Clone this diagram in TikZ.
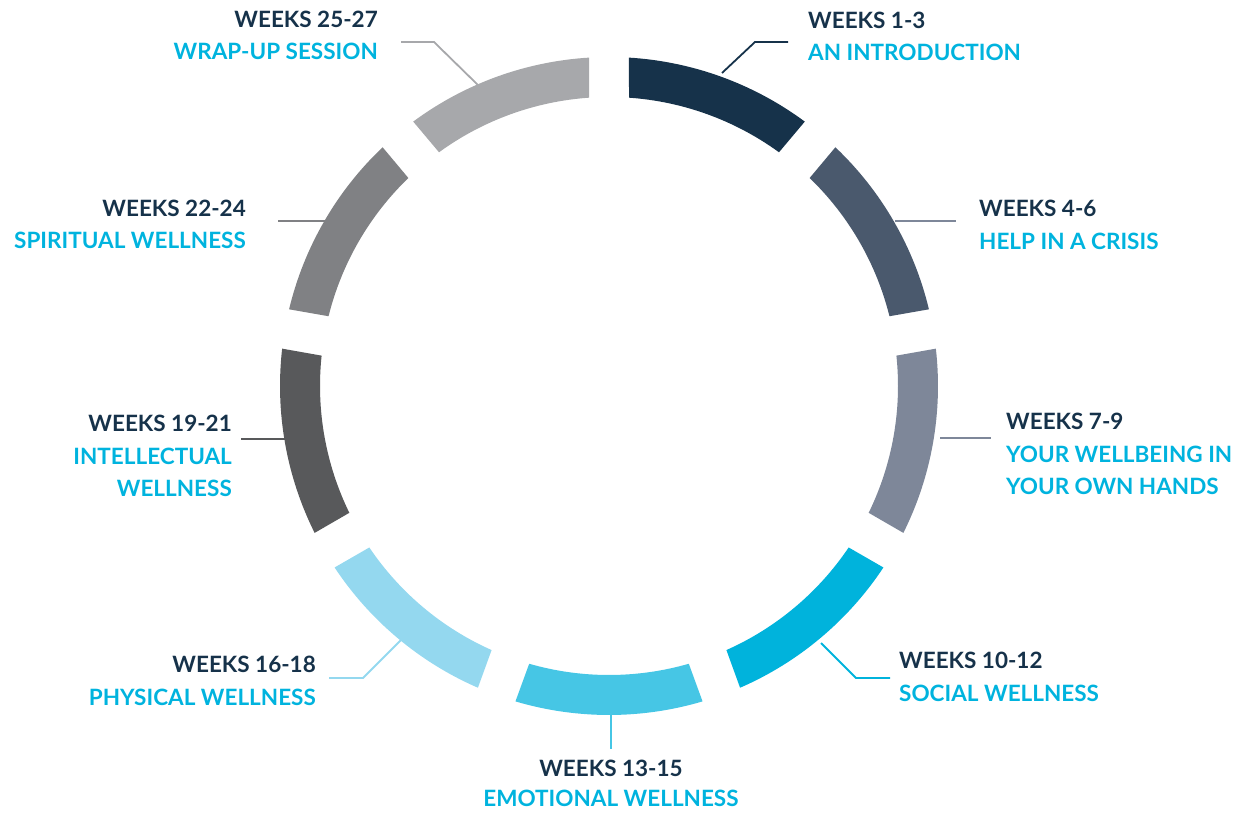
\documentclass[tikz,border=0pt]{standalone}
\usepackage{fontspec}
\setmainfont{Lato}

\definecolor{navy}{HTML}{16324A}
\definecolor{topic}{HTML}{00B3DE}
\definecolor{segA}{HTML}{16324A}
\definecolor{segB}{HTML}{4A596D}
\definecolor{segC}{HTML}{7E8799}
\definecolor{segD}{HTML}{00B3DC}
\definecolor{segE}{HTML}{46C6E5}
\definecolor{segF}{HTML}{94D8EF}
\definecolor{segG}{HTML}{58595B}
\definecolor{segH}{HTML}{808184}
\definecolor{segI}{HTML}{A7A8AB}

\tikzset{
  weeks/.style={font=\bfseries\fontsize{22.5}{22.5}\selectfont, text=navy, inner sep=0pt},
  topicline/.style={font=\bfseries\fontsize{22.5}{22.5}\selectfont, text=topic, inner sep=0pt},
  leader/.style={line width=1.8pt},
}

\begin{document}
\begin{tikzpicture}[x=1pt, y=1pt]
          \useasboundingbox (0,0) rectangle (1237,816);

          % ring
          \begin{scope}[shift={(609,430)}]
          \foreach \col [count=\k from 0] in {segA,segB,segC,segD,segE,segF,segG,segH,segI} {
            \pgfmathsetmacro\ga{90-40*\k}
            \pgfmathsetmacro\gb{50-40*\k}
            \fill[\col] (\ga-3.48:329pt) arc[start angle=\ga-3.48, end angle=\gb+3.48, radius=329pt]
              -- (\gb+3.97:289pt) arc[start angle=\gb+3.97, end angle=\ga-3.97, radius=289pt] -- cycle;
          }
          \end{scope}

          % nodes
          \node[weeks, anchor=base west] at (808,787) (w1) {WEEKS 1-3};
          \node[topicline, anchor=base west] at (808,755) (t1) {AN INTRODUCTION};

          \node[weeks, anchor=base west] at (979,599) (w2) {WEEKS 4-6};
          \node[topicline, anchor=base west] at (979,566) (t2) {HELP IN A CRISIS};

          \node[weeks, anchor=base west] at (1006,386) (w3) {WEEKS 7-9};
          \node[topicline, anchor=base west] at (1006,353) (t3a) {YOUR WELLBEING IN};
          \node[topicline, anchor=base west] at (1006,321) (t3b) {YOUR OWN HANDS};

          \node[weeks, anchor=base west] at (899,147) (w4) {WEEKS 10-12};
          \node[topicline, anchor=base west] at (899,114) (t4) {SOCIAL WELLNESS};

          \node[weeks, anchor=base] at (611,39) (w5) {WEEKS 13-15};
          \node[topicline, anchor=base] at (611,9) (t5) {EMOTIONAL WELLNESS};

          \node[weeks, anchor=base east] at (316,143) (w6) {WEEKS 16-18};
          \node[topicline, anchor=base east] at (316,110) (t6) {PHYSICAL WELLNESS};

          \node[weeks, anchor=base east] at (232,384) (w7) {WEEKS 19-21};
          \node[topicline, anchor=base east] at (232,351) (t7a) {INTELLECTUAL};
          \node[topicline, anchor=base east] at (232,319) (t7b) {WELLNESS};

          \node[weeks, anchor=base east] at (246,599) (w8) {WEEKS 22-24};
          \node[topicline, anchor=base east] at (246,567) (t8) {SPIRITUAL WELLNESS};

          \node[weeks, anchor=base east] at (378,788) (w9) {WEEKS 25-27};
          \node[topicline, anchor=base east] at (378,756) (t9) {WRAP-UP SESSION};

          % leader points
          \coordinate (s1) at (722,743); \coordinate (k1) at (755,774); \coordinate (e1) at (788,774);
          \coordinate (s2) at (895,595); \coordinate (e2) at (956,595);
          \coordinate (s3) at (940,378); \coordinate (e3) at (991,378);
          \coordinate (s4) at (821,173); \coordinate (k4) at (856,138); \coordinate (e4) at (890,138);
          \coordinate (s5) at (611,101); \coordinate (e5) at (611,67);
          \coordinate (s6) at (403,178); \coordinate (k6) at (363,138); \coordinate (e6) at (329,138);
          \coordinate (s7) at (301,377); \coordinate (e7) at (241,377);
          \coordinate (s8) at (338,595); \coordinate (e8) at (278,595);
          \coordinate (s9) at (482,727); \coordinate (k9) at (434,774); \coordinate (e9) at (401,774);

          % leaders
          \draw[leader, segA] (s1) -- (k1) -- (e1);
          \draw[leader, segC] (s2) -- (e2);
          \draw[leader, segC] (s3) -- (e3);
          \draw[leader, segD] (s4) -- (k4) -- (e4);
          \draw[leader, segE] (s5) -- (e5);
          \draw[leader, segF] (s6) -- (k6) -- (e6);
          \draw[leader, segG] (s7) -- (e7);
          \draw[leader, segH] (s8) -- (e8);
          \draw[leader, segI] (s9) -- (k9) -- (e9);
        \end{tikzpicture}
\end{document}
